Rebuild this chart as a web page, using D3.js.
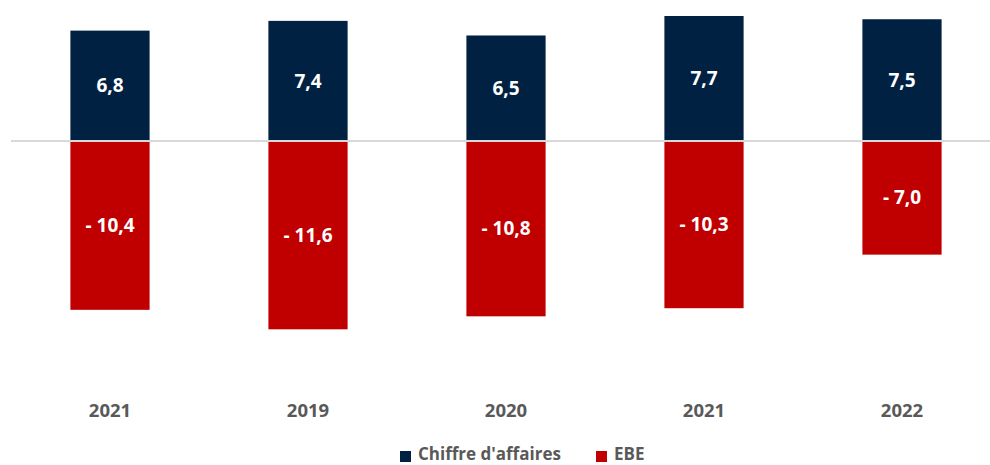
<!DOCTYPE html>
<html>
<head>
<meta charset="utf-8">
<script src="https://cdn.jsdelivr.net/npm/d3@7"></script>
<style>
  body { margin: 0; background: #fff; }
  svg { font-family: "Open Sans", sans-serif; font-weight: bold; }
</style>
</head>
<body>
<div class="chart"></div>
<script>
// data
var years = ["2021", "2019", "2020", "2021", "2022"];
var chiffreAffaires = [6.8, 7.4, 6.5, 7.7, 7.5];
var ebe = [-10.4, -11.6, -10.8, -10.3, -7.0];
var seriesNames = ["Chiffre d'affaires", "EBE"];
var seriesColors = ["#002142", "#c00000"];

var width = 990, height = 465;
var svg = d3.select(".chart").append("svg")
  .attr("width", width).attr("height", height);

var x = d3.scaleBand()
  .domain(d3.range(years.length))
  .range([11, 1001])
  .paddingInner(0.6)
  .paddingOuter(0.3);

var y = d3.scaleLinear()
  .domain([0, 7.7])
  .range([141, 16]);

var fmt = function (v) {
  var s = Math.abs(v).toFixed(1).replace(".", ",");
  return v < 0 ? "- " + s : s;
};

// baseline
svg.append("line")
  .attr("x1", 11).attr("x2", 990)
  .attr("y1", y(0)).attr("y2", y(0))
  .attr("stroke", "#d9d9d9").attr("stroke-width", 2);

[chiffreAffaires, ebe].forEach(function (vals, si) {
  var g = svg.append("g");
  g.selectAll("rect")
    .data(vals)
    .enter()
    .append("rect")
    .attr("x", function (d, i) { return x(i); })
    .attr("width", x.bandwidth())
    .attr("y", function (d) { return Math.min(y(d), y(0)) + (d < 0 ? 1 : 0); })
    .attr("height", function (d) { return Math.abs(y(d) - y(0)) - 1; })
    .attr("fill", seriesColors[si]);

  g.selectAll("text")
    .data(vals)
    .enter()
    .append("text")
    .attr("x", function (d, i) { return x(i) + x.bandwidth() / 2; })
    .attr("y", function (d) { return (y(d) + y(0)) / 2; })
    .attr("dy", "0.35em")
    .attr("text-anchor", "middle")
    .attr("fill", "#fff")
    .attr("font-size", 19)
    .text(fmt);
});

// category labels
svg.append("g")
  .selectAll("text")
  .data(years)
  .enter()
  .append("text")
  .attr("x", function (d, i) { return x(i) + x.bandwidth() / 2; })
  .attr("y", 411)
  .attr("dy", "0.35em")
  .attr("text-anchor", "middle")
  .attr("fill", "#595959")
  .attr("font-size", 18.5)
  .text(function (d) { return d; });

// legend
var legendX = [400, 596];
var legend = svg.append("g");
seriesNames.forEach(function (name, i) {
  legend.append("rect")
    .attr("x", legendX[i]).attr("y", 451)
    .attr("width", 11).attr("height", 11)
    .attr("fill", seriesColors[i]);
  legend.append("text")
    .attr("x", legendX[i] + 18).attr("y", 454)
    .attr("dy", "0.35em")
    .attr("fill", "#595959")
    .attr("font-size", 17)
    .text(name);
});
</script>
</body>
</html>
